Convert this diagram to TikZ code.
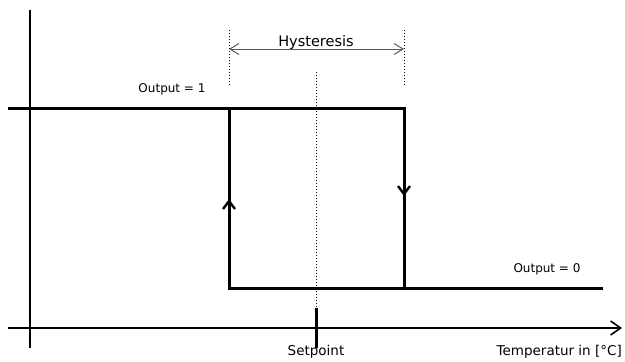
\documentclass[tikz,border=0pt]{standalone}
\usepackage{fontspec}
\setmainfont{DejaVu Sans}
\usetikzlibrary{arrows.meta}
\tikzset{
  axis/.style={line width=1.8pt, -{Straight Barb[length=10pt,width=14pt,line width=1.6pt]}},
  curve/.style={line width=3pt},
  guide/.style={line width=1pt, dotted},
  lbl/.style={inner sep=0pt, font=\fontsize{13.5}{15}\selectfont},
  hyslbl/.style={inner sep=0pt, font=\fontsize{14.5}{16}\selectfont},
  outlbl/.style={inner sep=0pt, font=\fontsize{12}{14}\selectfont},
  dirarrow/.style={line width=3pt, -{Straight Barb[length=8pt,width=12pt,line width=2.4pt]}},
}
\begin{document}
\begin{tikzpicture}[x=1pt,y=-1pt]
\useasboundingbox (0,0) rectangle (625,362);
% axes
\coordinate (yb) at (30,348);
\coordinate (yt) at (30,10);
\coordinate (xl) at (8,328);
\coordinate (xr) at (622,328);
\draw[line width=1.8pt] (yb) -- (yt);
\draw[axis] (xl) -- (xr);
% curve corners
\coordinate (a) at (8,108);
\coordinate (b) at (229,108);
\coordinate (c) at (404,108);
\coordinate (d) at (229,288);
\coordinate (e) at (404,288);
\coordinate (f) at (603,288);
\draw[curve] (a) -- (c) -- (e);
\draw[curve] (b) -- (d) -- (f);
% direction arrows
\coordinate (lu0) at (229,215);
\coordinate (lu1) at (229,199);
\coordinate (rd0) at (404,180);
\coordinate (rd1) at (404,196);
\draw[dirarrow] (lu0) -- (lu1);
\draw[dirarrow] (rd0) -- (rd1);
% setpoint
\coordinate (s0) at (316,72);
\coordinate (s1) at (316,308);
\coordinate (s2) at (316,348);
\draw[guide] (s0) -- (s1);
\draw[line width=3pt] (s1) -- (s2);
% hysteresis guides
\coordinate (h1t) at (229,30);
\coordinate (h1b) at (229,86);
\coordinate (h2t) at (404,30);
\coordinate (h2b) at (404,86);
\draw[guide] (h1t) -- (h1b);
\draw[guide] (h2t) -- (h2b);
\coordinate (ha) at (229,49);
\coordinate (hb) at (404,49);
\draw[gray!70!black, line width=1pt, {Straight Barb[length=9pt,width=11pt]}-{Straight Barb[length=9pt,width=11pt]}] (ha) -- (hb);
% labels
\node[hyslbl] (hys) at (316,42) {Hysteresis};
\node[outlbl] (o1) at (172,89) {Output = 1};
\node[outlbl] (o0) at (547,269) {Output = 0};
\node[lbl] (sp) at (316,352) {Setpoint};
\node[lbl, anchor=east] (tmp) at (622,352) {Temperatur in [°C]};
\end{tikzpicture}
\end{document}
